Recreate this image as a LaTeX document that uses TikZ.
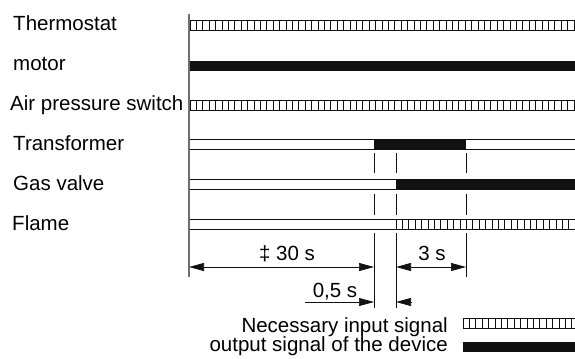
\documentclass[tikz,border=0pt]{standalone}
\usepackage{fontspec}
\setmainfont{Liberation Sans}
\usepackage{tikz}
\usetikzlibrary{arrows.meta, positioning, calc}
\definecolor{timingink}{HTML}{111111}
\definecolor{timingaxis}{HTML}{6E6E6E}

\begin{document}
\begin{tikzpicture}[x=0.3mm, y=-0.3mm,
    lbl/.style={font=\fontsize{17.5}{21}\selectfont, inner sep=0pt},
    barline/.style={draw=timingink, line width=0.6pt},
    axisline/.style={draw=timingaxis, line width=1pt},
    markline/.style={draw=timingink, line width=0.6pt},
    dimboth/.style={draw=timingink, line width=0.6pt, {Triangle[length=4.5mm, width=2.4mm]}-{Triangle[length=4.5mm, width=2.4mm]}},
    dimone/.style={draw=timingink, line width=0.6pt, -{Triangle[length=4.5mm, width=2.4mm]}}]
    \useasboundingbox (0,0) rectangle (575,358);

    \node[lbl, anchor=base west] (thermostat) at (13,30) {Thermostat};
    \node[lbl, anchor=base west] (motor) at (13,70) {motor};
    \node[lbl, anchor=base west] (airswitch) at (10,110) {Air pressure switch};
    \node[lbl, anchor=base west] (transformer) at (13,150) {Transformer};
    \node[lbl, anchor=base west] (gasvalve) at (13,190) {Gas valve};
    \node[lbl, anchor=base west] (flame) at (12,230) {Flame};

    \draw[axisline] (189,14) -- (189,277);

    % empty tracks
    \foreach \yt in {139,179,219}
        \draw[barline] (190,\yt) -- (575,\yt) (190,\yt+10.5) -- (575,\yt+10.5);

    % input signals (hatched)
    \foreach \xa/\xb/\yt in {190/575/20, 190/575/100, 396/575/219, 463/575/318} {
        \draw[barline] (\xa,\yt) rectangle (\xb,\yt+10.5);
        \pgfmathtruncatemacro{\nticks}{(\xb-\xa)/6.4}
        \foreach \k in {1,...,\nticks}
            \draw[barline] ({\xa+6.4*\k},\yt) -- ++(0,10.5);
    }

    % output signals (solid)
    \fill[timingink] (190,61) rectangle (575,71);
    \fill[timingink] (374,139) rectangle (466,149.5);
    \fill[timingink] (396,179) rectangle (575,189.5);
    \fill[timingink] (463,342) rectangle (575,352);

    \foreach \tx in {374,396,466}
        \draw[markline] (\tx,153) -- (\tx,173) (\tx,194) -- (\tx,215);
    \draw[markline] (374,233) -- (374,308);
    \draw[markline] (396,233) -- (396,308);
    \draw[markline] (466,233) -- (466,277);

    \coordinate (start) at (189,267);
    \coordinate (ignition) at (374,267);
    \coordinate (gasopen) at (396,267);
    \coordinate (safety) at (466,267);
    \coordinate (halfin) at (305,302);
    \coordinate (halfa) at (374,302);
    \coordinate (halfb) at (396,302);
    \coordinate (halfout) at (412,302);

    \draw[dimboth] (start) -- (ignition);
    \draw[dimboth] (gasopen) -- (safety);
    \draw[dimone] (halfin) -- (halfa);
    \draw[dimone] (halfout) -- (halfb);

    \node[lbl, anchor=base] (prepurge) at (287,260) {‡ 30 s};
    \node[lbl, anchor=base] (safetytime) at (432,260) {3 s};
    \node[lbl, anchor=base] (delay) at (335,297) {0,5 s};

    \node[lbl, anchor=base east] (leginput) at (448,332) {Necessary input signal};
    \node[lbl, anchor=base east] (legoutput) at (448,351) {output signal of the device};
\end{tikzpicture}
\end{document}
